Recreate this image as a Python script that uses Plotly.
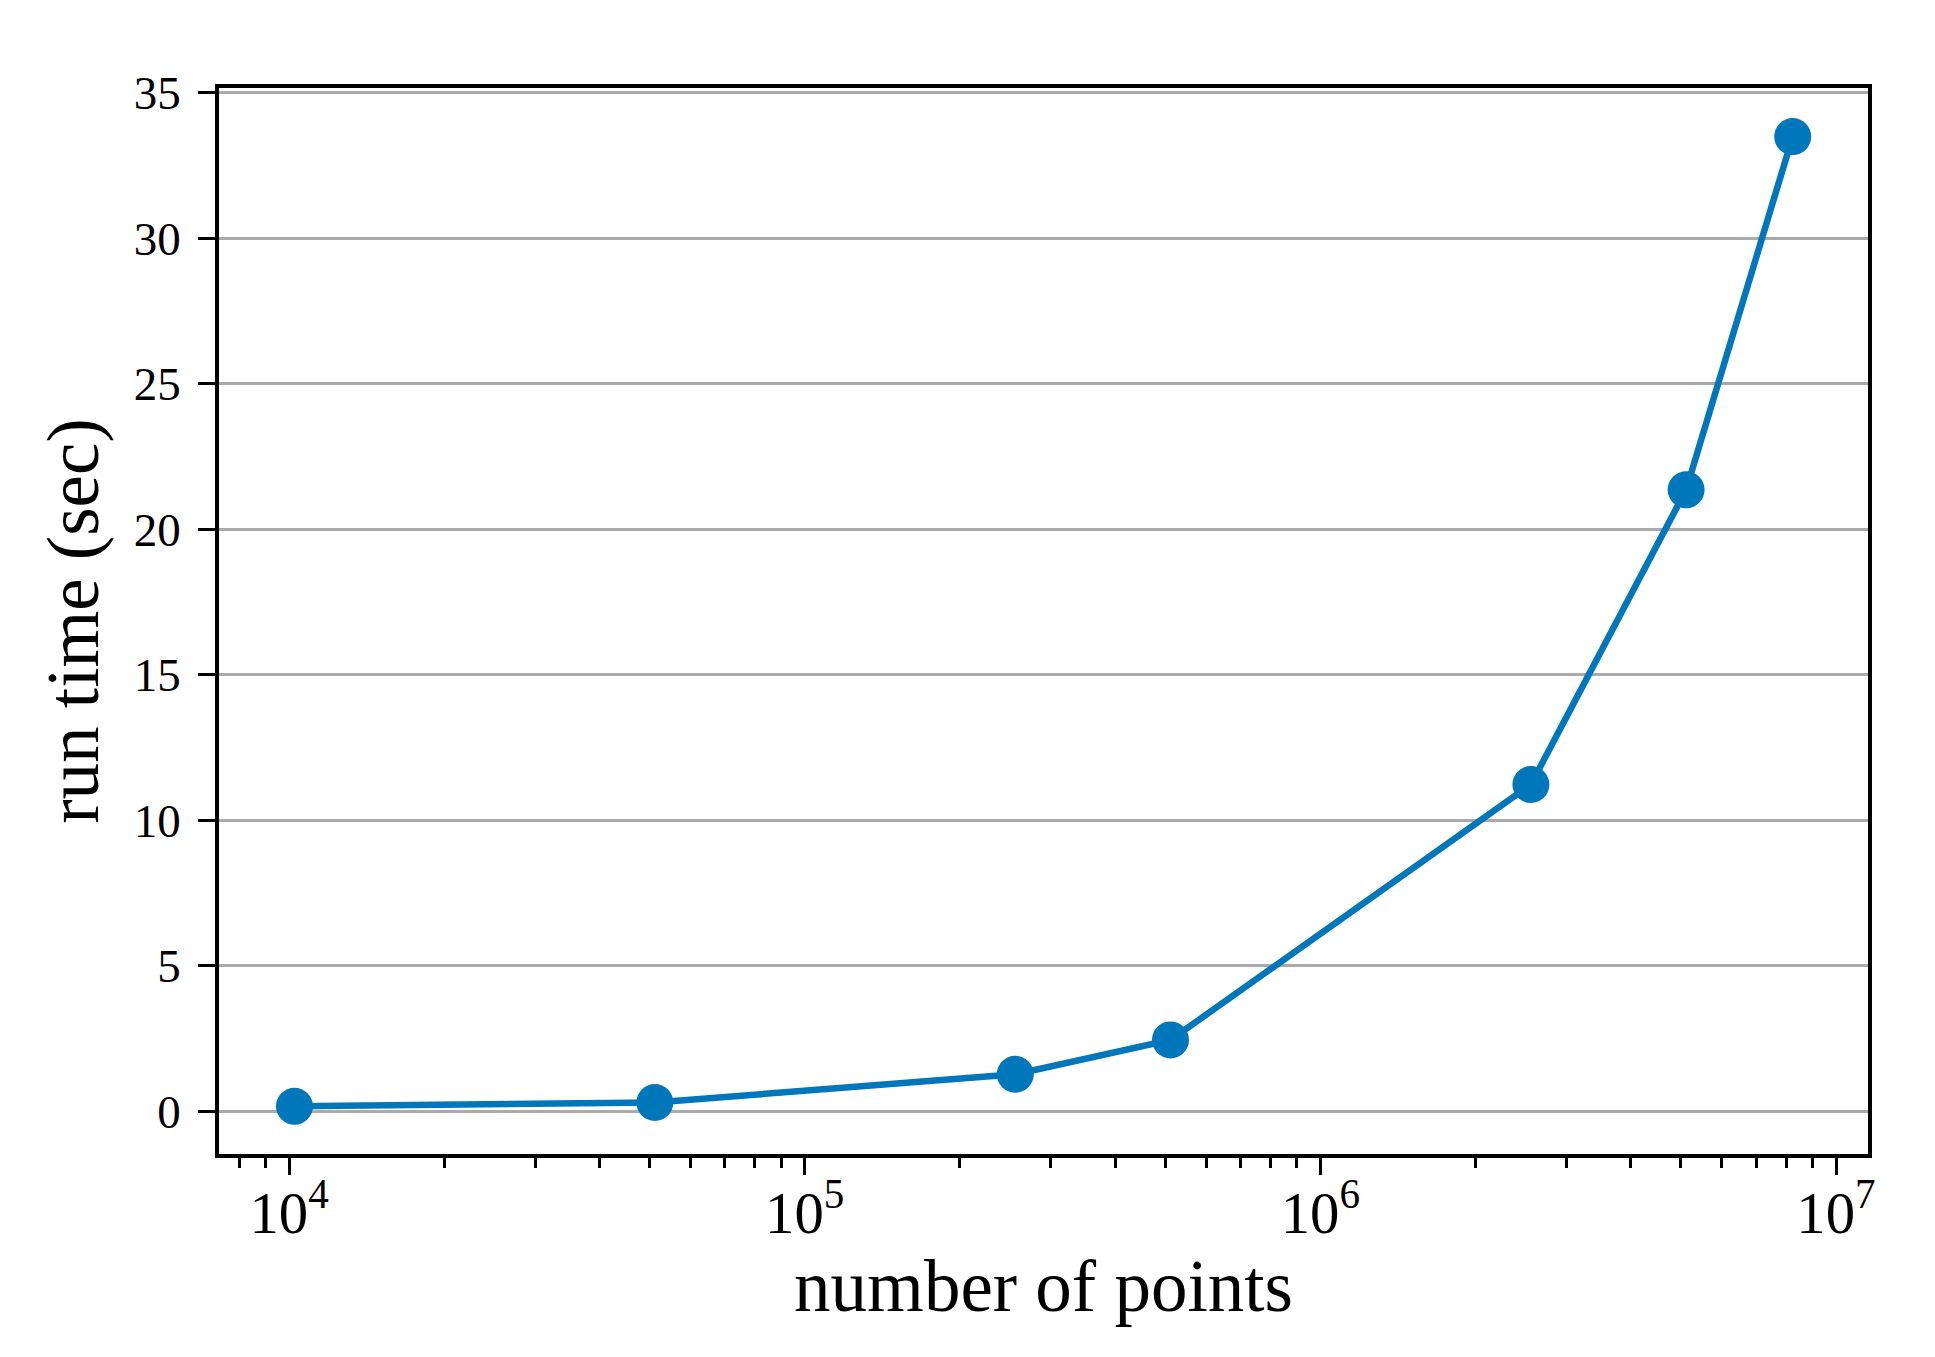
import plotly.graph_objects as go

n_points = [10240, 51200, 256000, 512000, 2560000, 5120000, 8240000]
run_time = [0.17, 0.30, 1.27, 2.45, 11.23, 21.36, 33.5]

x_title = "number of points"
y_title = "run time (sec)"
y_ticks = [0, 5, 10, 15, 20, 25, 30, 35]

blue = "#0077BB"
font_family = "Liberation Serif, Times New Roman, serif"

fig = go.Figure()
fig.add_trace(go.Scatter(
    x=n_points, y=run_time, mode="lines+markers",
    line=dict(color=blue, width=6.5),
    marker=dict(color=blue, size=37),
    showlegend=False,
))

fig.update_layout(
    width=1935, height=1357,
    margin=dict(l=211, r=75, t=80, b=211),
    paper_bgcolor="white", plot_bgcolor="white",
    font=dict(family=font_family, color="black", size=47),
)

fig.update_xaxes(
    type="log", range=[3.864, 7.062],
    dtick=1, exponentformat="power", showexponent="all",
    showline=True, linecolor="black", linewidth=3.5, mirror=True,
    ticks="outside", ticklen=17, tickwidth=3, tickcolor="black",
    minor=dict(ticks="outside", ticklen=10, tickwidth=2.5, tickcolor="black", dtick="D1", showgrid=False),
    showgrid=False, zeroline=False,
    tickfont=dict(size=47),
    ticklabelstandoff=-10,
    title=dict(text=x_title, font=dict(size=73), standoff=10),
)
fig.update_yaxes(
    range=[-1.47, 35.17],
    tickmode="array", tickvals=y_ticks,
    showline=True, linecolor="black", linewidth=3.5, mirror=True,
    ticks="outside", ticklen=17, tickwidth=3, tickcolor="black",
    showgrid=True, gridcolor="#aaaaaa", gridwidth=2.5,
    zeroline=False,
    tickfont=dict(size=47),
    ticklabelstandoff=8,
    title=dict(text=y_title, font=dict(size=73), standoff=12),
)

fig.write_html("out.html")
